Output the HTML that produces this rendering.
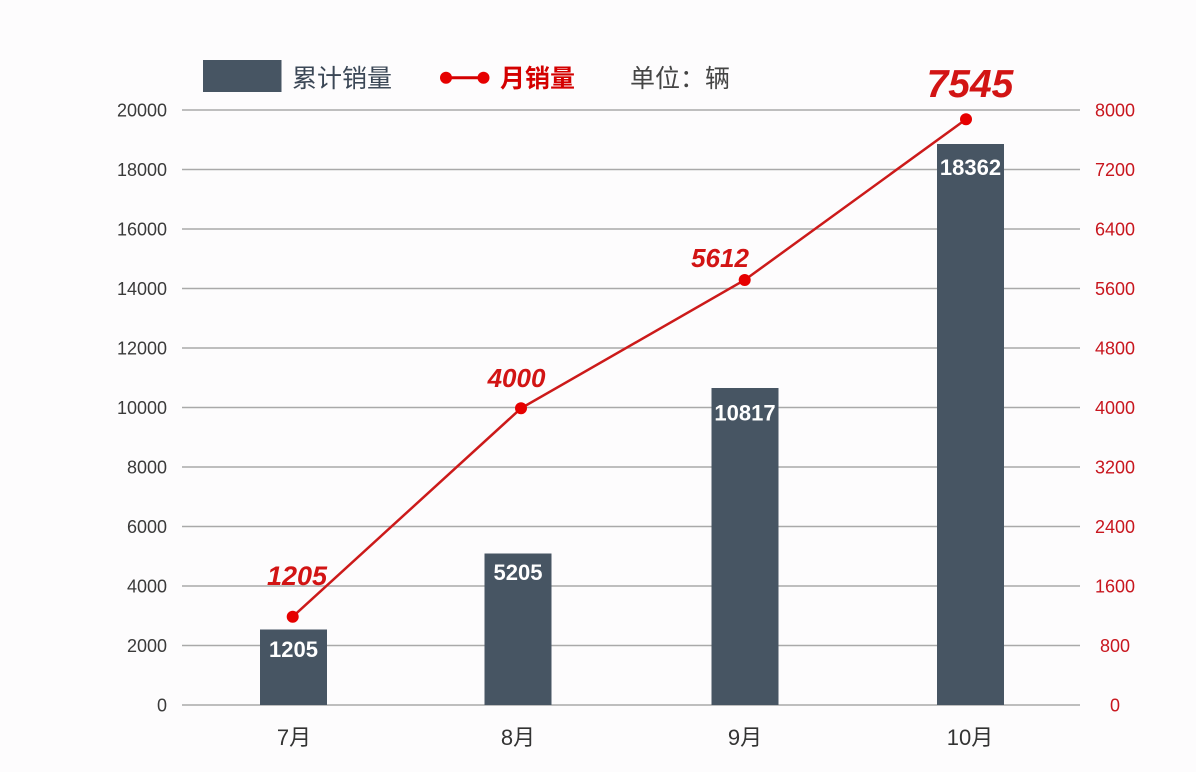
<!DOCTYPE html>
<html>
<head>
<meta charset="utf-8">
<style>
  html, body { margin: 0; padding: 0; background: #fdfcfd; }
  svg { display: block; }
  text { font-family: "Liberation Sans", "Noto Sans CJK SC", sans-serif; }
</style>
</head>
<body>
<svg width="1196" height="772" viewBox="0 0 1196 772" xmlns="http://www.w3.org/2000/svg">
  <rect x="0" y="0" width="1196" height="772" fill="#fdfcfd"/>

  <!-- gridlines -->
  <g stroke="#a9a9a9" stroke-width="1.5">
    <line x1="182" y1="110" x2="1080" y2="110"/>
    <line x1="182" y1="169.5" x2="1080" y2="169.5"/>
    <line x1="182" y1="229" x2="1080" y2="229"/>
    <line x1="182" y1="288.5" x2="1080" y2="288.5"/>
    <line x1="182" y1="348" x2="1080" y2="348"/>
    <line x1="182" y1="407.5" x2="1080" y2="407.5"/>
    <line x1="182" y1="467" x2="1080" y2="467"/>
    <line x1="182" y1="526.5" x2="1080" y2="526.5"/>
    <line x1="182" y1="586" x2="1080" y2="586"/>
    <line x1="182" y1="645.5" x2="1080" y2="645.5"/>
    <line x1="182" y1="705" x2="1080" y2="705"/>
  </g>

  <!-- left axis labels -->
  <g font-size="18" fill="#3a3a3a" text-anchor="end">
    <text x="167" y="116.5">20000</text>
    <text x="167" y="176">18000</text>
    <text x="167" y="235.5">16000</text>
    <text x="167" y="295">14000</text>
    <text x="167" y="354.5">12000</text>
    <text x="167" y="414">10000</text>
    <text x="167" y="473.5">8000</text>
    <text x="167" y="533">6000</text>
    <text x="167" y="592.5">4000</text>
    <text x="167" y="652">2000</text>
    <text x="167" y="711.5">0</text>
  </g>

  <!-- right axis labels -->
  <g font-size="18" fill="#c8161e" text-anchor="middle">
    <text x="1115" y="116.5">8000</text>
    <text x="1115" y="176">7200</text>
    <text x="1115" y="235.5">6400</text>
    <text x="1115" y="295">5600</text>
    <text x="1115" y="354.5">4800</text>
    <text x="1115" y="414">4000</text>
    <text x="1115" y="473.5">3200</text>
    <text x="1115" y="533">2400</text>
    <text x="1115" y="592.5">1600</text>
    <text x="1115" y="652">800</text>
    <text x="1115" y="711.5">0</text>
  </g>

  <!-- bars -->
  <g fill="#475563">
    <rect x="260" y="629.5" width="67" height="75.5"/>
    <rect x="484.5" y="553.5" width="67" height="151.5"/>
    <rect x="711.5" y="388" width="67" height="317"/>
    <rect x="937" y="144" width="67" height="561"/>
  </g>

  <!-- bar labels -->
  <g font-size="22" font-weight="bold" fill="#ffffff" text-anchor="middle">
    <text x="293.5" y="657">1205</text>
    <text x="518" y="580">5205</text>
    <text x="745" y="420.5">10817</text>
    <text x="970.5" y="175">18362</text>
  </g>

  <!-- x axis labels -->
  <g font-size="22" fill="#333333" text-anchor="middle">
    <text x="294" y="745">7月</text>
    <text x="518" y="745">8月</text>
    <text x="745" y="745">9月</text>
    <text x="970" y="745">10月</text>
  </g>

  <!-- line series -->
  <polyline points="292.7,616.7 521,408.3 744.7,280 966,119.3" fill="none" stroke="#cc1a1a" stroke-width="2.5"/>
  <g fill="#e60000">
    <circle cx="292.7" cy="616.7" r="6"/>
    <circle cx="521" cy="408.3" r="6"/>
    <circle cx="744.7" cy="280" r="6"/>
    <circle cx="966" cy="119.3" r="6"/>
  </g>

  <!-- line labels -->
  <g font-weight="bold" font-style="italic" fill="#d21414" text-anchor="middle">
    <text x="297" y="585" font-size="27">1205</text>
    <text x="516.5" y="387" font-size="26">4000</text>
    <text x="720" y="267" font-size="26">5612</text>
    <text x="970" y="97" font-size="39">7545</text>
  </g>

  <!-- legend -->
  <rect x="203" y="60" width="78.5" height="32" fill="#475563"/>
  <text x="292" y="87" font-size="25" fill="#3b4756">累计销量</text>
  <line x1="446" y1="77.7" x2="483.5" y2="77.7" stroke="#d40000" stroke-width="3"/>
  <circle cx="446" cy="77.7" r="6" fill="#e60000"/>
  <circle cx="483.5" cy="77.7" r="6" fill="#e60000"/>
  <text x="500" y="87" font-size="25" font-weight="bold" fill="#d40000">月销量</text>
  <text x="630" y="87" font-size="25" fill="#444444">单位：辆</text>
</svg>
</body>
</html>
